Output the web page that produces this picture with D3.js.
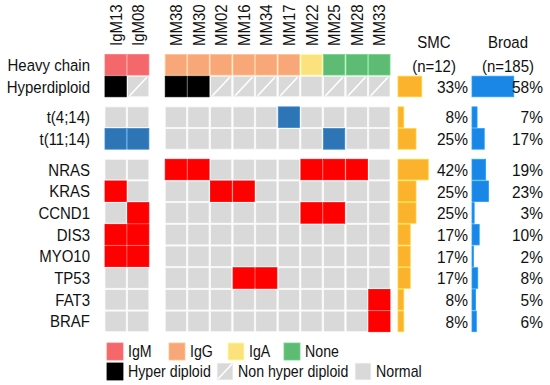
<!DOCTYPE html>
<html lang="en">
<head>
  <meta charset="UTF-8">
  <title>SMC vs Broad oncoprint</title>
  <script src="https://d3js.org/d3.v7.min.js"></script>
  <style>
    body
    {
      margin: 0;
      padding: 0;
      background-color: #fff;
      font-family: Arial, "Liberation Sans", sans-serif;
    }
    svg text
    {
      fill: #111;
    }
  </style>
</head>
<body>
  <svg width="550" height="385"></svg>
  <script>
    // samples, grouped IgM vs MM
    const samples = ["IgM13", "IgM08", "MM38", "MM30", "MM02", "MM16", "MM34", "MM17", "MM22", "MM25", "MM28", "MM33"];
    const heavyChain = ["IgM", "IgM", "IgG", "IgG", "IgG", "IgG", "IgG", "IgG", "IgA", "None", "None", "None"];
    // H = hyper diploid, N = non hyper diploid, "" = normal
    const hyperdiploid = ["H", "N", "H", "H", "N", "N", "N", "N", "", "N", "N", "N"];

    const features = ["t(4;14)", "t(11;14)", "NRAS", "KRAS", "CCND1", "DIS3", "MYO10", "TP53", "FAT3", "BRAF"];
    const featureKind = ["trans", "trans", "mut", "mut", "mut", "mut", "mut", "mut", "mut", "mut"];
    const hits = [
      ["MM17"],
      ["IgM13", "IgM08", "MM25"],
      ["MM38", "MM30", "MM22", "MM25", "MM28"],
      ["IgM13", "MM02", "MM16"],
      ["IgM08", "MM22", "MM25"],
      ["IgM13", "IgM08"],
      ["IgM13", "IgM08"],
      ["MM16", "MM34"],
      ["MM33"],
      ["MM33"]
    ];

    const pctRows = ["Hyperdiploid", "t(4;14)", "t(11;14)", "NRAS", "KRAS", "CCND1", "DIS3", "MYO10", "TP53", "FAT3", "BRAF"];
    const smcPct = [33, 8, 25, 42, 25, 25, 17, 17, 17, 8, 8];
    const broadPct = [58, 7, 17, 19, 23, 3, 10, 2, 8, 5, 6];

    const rowNames = ["Heavy chain", "Hyperdiploid"].concat(features);
    const rowGroup = [0, 0, 1, 1, 2, 2, 2, 2, 2, 2, 2, 2];

    const colors = {
      IgM: "#f4676b",
      IgG: "#f8a878",
      IgA: "#fbe27f",
      None: "#5dbb73",
      H: "#000000",
      normal: "#d9d9d9",
      trans: "#2e75b6",
      mut: "#ff0000",
      smc: "#fbb22d",
      broad: "#1a86e6"
    };

    const svg = d3.select("svg");

    // glyphs in the original look a bit taller than wide
    const STRETCH = 1.12;
    function label(g, px, py, str, opts = {}) {
      const size = opts.size || 15;
      const rot = opts.rotate ? " rotate(-90)" : "";
      return g.append("text")
        .attr("transform", `translate(${px},${py})${rot} scale(1,${STRETCH})`)
        .attr("dy", opts.middle ? "0.36em" : null)
        .attr("text-anchor", opts.anchor || "start")
        .attr("font-size", size)
        .text(str);
    }

    const x = d3.scaleBand()
      .domain(samples)
      .range([105, 105 + samples.length * 22.5])
      .paddingInner(0.06);
    const colX = s => x(s) + (s.startsWith("MM") ? 15 : 0);

    const y = d3.scaleBand()
      .domain(rowNames)
      .range([54.5, 54.5 + rowNames.length * 21.6])
      .paddingInner(0.05);
    const rowY = r => y(r) + rowGroup[rowNames.indexOf(r)] * 9;

    // column labels
    const colLab = svg.append("g");
    samples.forEach(s => {
      label(colLab, colX(s) + x.bandwidth() / 2, 46, s, { rotate: true, middle: true });
    });

    // row labels
    const rowLab = svg.append("g");
    rowNames.forEach(r => {
      label(rowLab, 90, rowY(r) + y.bandwidth() / 2, r, { anchor: "end", middle: true });
    });

    // build cells
    const cells = [];
    samples.forEach((s, i) => {
      cells.push({ row: "Heavy chain", s, fill: colors[heavyChain[i]] });
      const h = hyperdiploid[i];
      cells.push({ row: "Hyperdiploid", s, fill: h === "H" ? colors.H : colors.normal, slash: h === "N" });
      features.forEach((f, j) => {
        const on = hits[j].includes(s);
        cells.push({ row: f, s, fill: on ? colors[featureKind[j]] : colors.normal });
      });
    });

    const cellG = svg.append("g");
    cellG.selectAll("rect")
      .data(cells)
      .join("rect")
      .attr("x", d => colX(d.s))
      .attr("y", d => rowY(d.row))
      .attr("width", x.bandwidth())
      .attr("height", y.bandwidth())
      .attr("fill", d => d.fill)
      .attr("stroke", d => d3.color(d.fill).brighter(0.4))
      .attr("stroke-width", 0.8);

    cellG.selectAll("line")
      .data(cells.filter(d => d.slash))
      .join("line")
      .attr("x1", d => colX(d.s) + 2)
      .attr("y1", d => rowY(d.row) + y.bandwidth() - 1)
      .attr("x2", d => colX(d.s) + x.bandwidth() - 2)
      .attr("y2", d => rowY(d.row) + 1)
      .attr("stroke", "#fff")
      .attr("stroke-width", 1.6);

    // percentage bars
    const w = d3.scaleLinear().domain([0, 100]).range([0, 72]);
    const panels = [
      { title: "SMC", sub: "(n=12)", vals: smcPct, x0: 398, tx: 468, cx: 434, color: colors.smc },
      { title: "Broad", sub: "(n=185)", vals: broadPct, x0: 472, tx: 543, cx: 508, color: colors.broad }
    ];

    panels.forEach(p => {
      const g = svg.append("g");
      label(g, p.cx, 48, p.title, { anchor: "middle" });
      label(g, p.cx, 72, p.sub, { anchor: "middle" });

      g.selectAll("rect")
        .data(pctRows)
        .join("rect")
        .attr("x", p.x0)
        .attr("y", d => rowY(d))
        .attr("width", (d, i) => w(p.vals[i]))
        .attr("height", y.bandwidth())
        .attr("fill", p.color)
        .attr("stroke", d3.color(p.color).brighter(0.5))
        .attr("stroke-width", 0.8);

      pctRows.forEach((r, i) => {
        label(g, p.tx, rowY(r) + y.bandwidth() / 2, p.vals[i] + "%", { anchor: "end", middle: true, size: 15.5 });
      });
    });

    // legend
    const legendRows = [
      [["IgM", colors.IgM, 107], ["IgG", colors.IgG, 169], ["IgA", colors.IgA, 228], ["None", colors.None, 284]],
      [["Hyper diploid", colors.H, 107], ["Non hyper diploid", colors.normal, 217, true], ["Normal", colors.normal, 355]]
    ];
    const legend = svg.append("g");
    legendRows.forEach((items, r) => {
      const ly = 343 + r * 20;
      items.forEach(([name, fill, lx, slash]) => {
        legend.append("rect")
          .attr("x", lx).attr("y", ly)
          .attr("width", 16).attr("height", 17)
          .attr("fill", fill)
          .attr("stroke", d3.color(fill).brighter(0.4))
          .attr("stroke-width", 0.8);
        if (slash) {
          legend.append("line")
            .attr("x1", lx + 1).attr("y1", ly + 16)
            .attr("x2", lx + 15).attr("y2", ly + 1)
            .attr("stroke", "#fff").attr("stroke-width", 1.6);
        }
        label(legend, lx + 21, ly + 8.5, name, { middle: true, size: 14.2 });
      });
    });
  </script>
</body>
</html>
